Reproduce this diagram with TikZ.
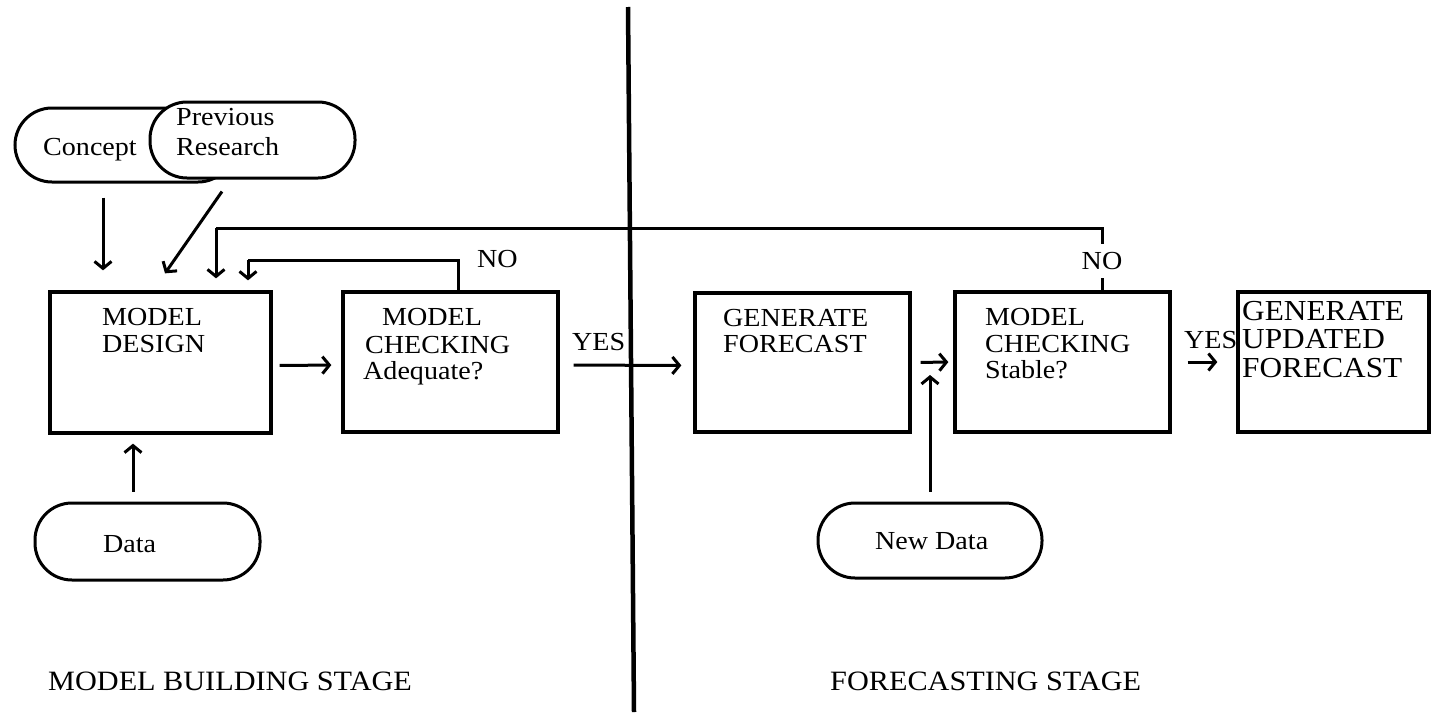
\documentclass[tikz,border=0pt]{standalone}
\usepackage{fontspec}
\setmainfont{Liberation Serif}[FakeStretch=1.08]
\usetikzlibrary{arrows.meta}
\begin{document}
\begin{tikzpicture}[x=1pt,y=-1pt,
  txt/.style={anchor=base west,inner sep=0pt,font=\fontsize{26pt}{30pt}\selectfont},
  bigtxt/.style={txt,font=\fontsize{29pt}{32pt}\selectfont},
  stagetxt/.style={txt,font=\fontsize{28pt}{32pt}\selectfont},
  stagebox/.style={draw,line width=3.3pt,inner sep=0pt},
  terminal/.style={draw,line width=3pt,fill=white,rounded corners=37pt,inner sep=0pt},
  arr/.style={line width=3pt,-{Straight Barb[length=7pt,width=17pt]}},
  loopline/.style={line width=3pt},
  nolabel/.style={fill=white,inner xsep=3pt,inner ysep=8pt,font=\fontsize{26pt}{30pt}\selectfont}]
\useasboundingbox (0,0) rectangle (1431,712);

% stage divider
\coordinate (dtop) at (628,7);
\coordinate (dbot) at (634,712);
\draw[line width=4.5pt] (dtop) -- (dbot);

% inputs of the model building stage
\node[terminal,minimum width=220pt,minimum height=74pt] (concept) at (125,145) {};
\node[terminal,minimum width=205pt,minimum height=76pt] (prev) at (252.5,140) {};
\node[terminal,minimum width=225pt,minimum height=77pt] (data) at (147.5,541.5) {};
\node[txt] (tconcept) at (43,155) {Concept};
\node[txt] (tprev1) at (176,125) {Previous};
\node[txt] (tprev2) at (176,155) {Research};
\node[txt] (tdata) at (103,552) {Data};

% process boxes
\node[stagebox,minimum width=221pt,minimum height=141pt] (design) at (160.5,362.5) {};
\node[stagebox,minimum width=215pt,minimum height=140pt] (check1) at (450.5,362) {};
\node[stagebox,minimum width=215pt,minimum height=139pt] (genf) at (802.5,362.5) {};
\node[stagebox,minimum width=215pt,minimum height=140pt] (check2) at (1062.5,362) {};
\node[stagebox,minimum width=191pt,minimum height=140pt] (upd) at (1333.5,362) {};

\node[txt] (d1) at (102,325) {MODEL};
\node[txt] (d2) at (102,352) {DESIGN};
\node[txt] (c11) at (382,325) {MODEL};
\node[txt] (c12) at (365,353) {CHECKING};
\node[txt] (c13) at (363,379) {Adequate?};
\node[txt] (g1) at (723,326) {GENERATE};
\node[txt] (g2) at (723,352) {FORECAST};
\node[txt] (c21) at (985,325) {MODEL};
\node[txt] (c22) at (985,352) {CHECKING};
\node[txt] (c23) at (985,378) {Stable?};
\node[bigtxt] (u1) at (1242,320) {GENERATE};
\node[bigtxt] (u2) at (1242,348) {UPDATED};
\node[bigtxt] (u3) at (1242,377) {FORECAST};

% new data input of the forecasting stage
\node[terminal,minimum width=224pt,minimum height=75pt] (newdata) at (930,540.5) {};
\node[txt] (tnew) at (875,549) {New Data};

% inputs into the design box
\coordinate (cx) at (103,0);
\draw[arr,shorten <=14pt,shorten >=20pt] (concept.south -| cx) -- (design.north -| cx);
\draw[arr] ([xshift=-30.5pt,yshift=-12pt]prev.south) -- ([xshift=4.5pt,yshift=17pt]design.north);
\draw[arr,shorten <=10pt,shorten >=9pt] ([xshift=-14.5pt]data.north) -- ([xshift=-27.5pt]design.south);

% main flow
\draw[arr,shorten <=7pt,shorten >=10pt] ([yshift=-3pt]design.east) -- ([yshift=-3pt]check1.west);
\draw[arr,shorten <=14pt,shorten >=12pt] ([yshift=-3pt]check1.east) -- ([yshift=-3pt]genf.west);
\node[txt] (yes1) at (572,350) {YES};
\draw[arr,shorten <=9pt,shorten >=5pt] (genf.east) -- (check2.west);
\coordinate (ndtip) at (930,375);
\draw[arr,shorten <=10pt] (newdata.north) -- (ndtip);
\draw[arr,shorten <=16pt,shorten >=19pt] (check2.east) -- (upd.west);
\node[txt] (yes2) at (1184,348) {YES};

% feedback loops
\coordinate (inner) at (248,260);
\draw[loopline] ([xshift=7.5pt]check1.north) |- (inner);
\draw[arr] (inner) -- ([xshift=87.5pt,yshift=10pt]design.north);
\node[txt] (no1) at (477,267) {NO};

\coordinate (outer) at (216,228);
\draw[loopline] ([xshift=39.5pt]check2.north) |- (outer);
\draw[arr] (outer) -- ([xshift=55.5pt,yshift=12pt]design.north);
\node[nolabel] (no2) at (1102,261) {NO};

% stage titles
\node[stagetxt] (s1) at (48,690) {MODEL BUILDING STAGE};
\node[stagetxt] (s2) at (830,690) {FORECASTING STAGE};
\end{tikzpicture}
\end{document}
